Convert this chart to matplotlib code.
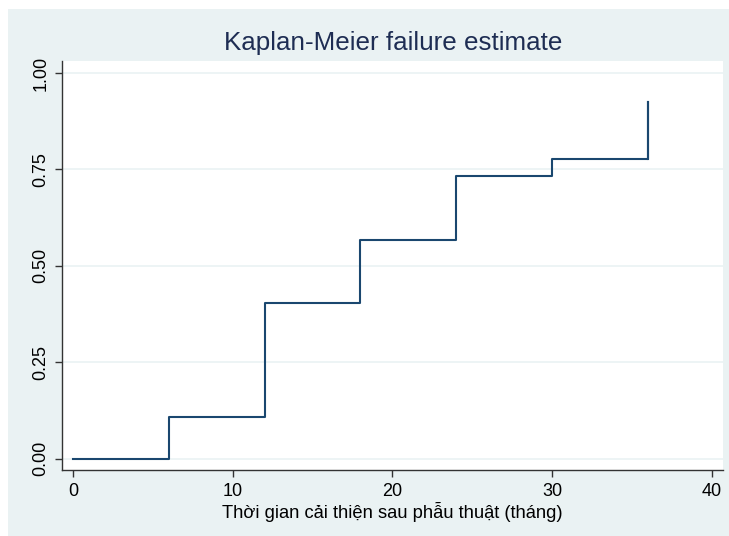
import matplotlib.pyplot as plt
from matplotlib.patches import Rectangle

# Kaplan-Meier failure estimate (step values)
times = [0, 6, 12, 18, 24, 30, 36]
failure = [0.0, 0.108, 0.405, 0.567, 0.733, 0.778, 0.925]
x_ticks = [0, 10, 20, 30, 40]
y_ticks = [0.00, 0.25, 0.50, 0.75, 1.00]
y_tick_labels = ['0.00', '0.25', '0.50', '0.75', '1.00']

W, H = 729, 536
plt.rcParams['font.family'] = ['Liberation Sans', 'DejaVu Sans']

fig = plt.figure(figsize=(W / 100, H / 100), dpi=100, facecolor='white')
# graph region background, drawn behind the axes
fig.patches.append(Rectangle((8 / W, 0), 1 - 8 / W, 1 - 9 / H, transform=fig.transFigure,
                             facecolor='#EAF2F3', edgecolor='none', zorder=-10))

ax = fig.add_axes([62 / W, 1 - 470 / H, (723 - 62) / W, (470 - 61) / H])
ax.set_zorder(1)
ax.set_facecolor('white')

ax.step(times, failure, where='post', color='#1A476F', lw=1.5)
# last drop at the final time
ax.plot([times[-1], times[-1]], [failure[-2], failure[-1]], color='#1A476F', lw=1.5)

ax.set_xlim(-0.69, 40.7)
ax.set_ylim(-0.029, 1.031)
ax.set_xticks(x_ticks)
ax.set_yticks(y_ticks)
ax.set_yticklabels(y_tick_labels, rotation=90, va='center')
ax.grid(axis='y', color='#EAF2F3', lw=1.2)
ax.set_axisbelow(True)

for s in ['top', 'right']:
    ax.spines[s].set_visible(False)
for s in ['left', 'bottom']:
    ax.spines[s].set_color('#333333')
    ax.spines[s].set_linewidth(1.0)
ax.tick_params(axis='both', direction='out', length=5, width=1, color='#333333',
               labelsize=13, labelcolor='black', pad=4)

ax.set_xlabel('Thời gian cải thiện sau phẫu thuật (tháng)', fontsize=13.2, labelpad=1.5)
fig.text(393 / W, 1 - 43 / H, 'Kaplan-Meier failure estimate', ha='center', va='center',
         fontsize=18.7, color='#1E2D53')

fig.savefig('out.png', dpi=100, facecolor=fig.get_facecolor())
